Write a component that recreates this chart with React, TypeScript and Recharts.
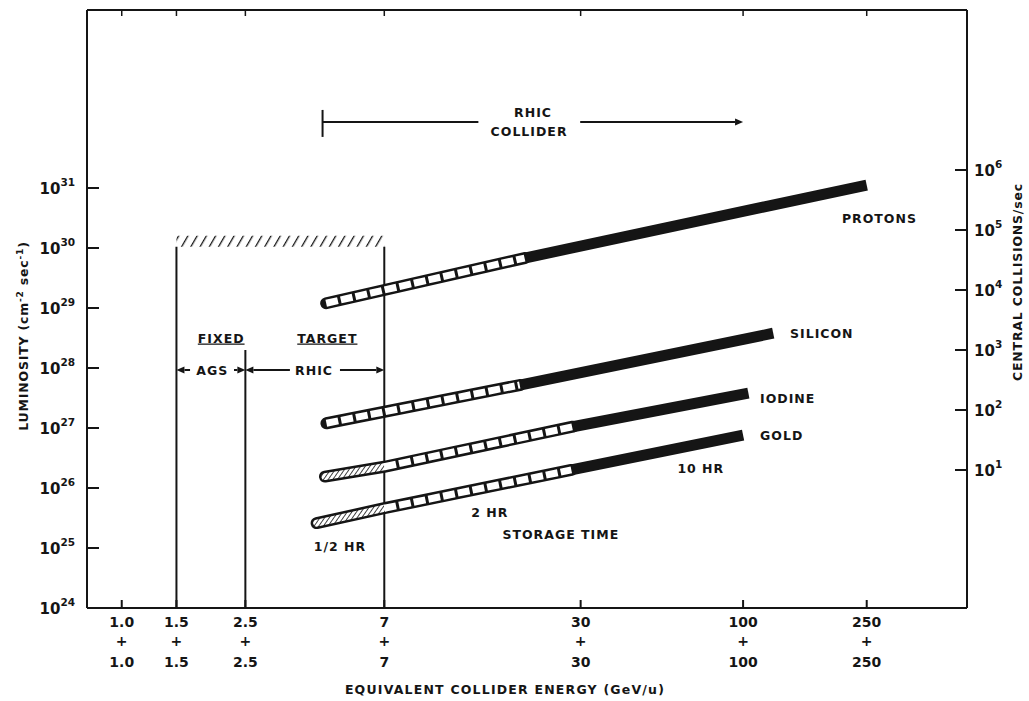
import React from 'react';
import { ComposedChart, Line, XAxis, YAxis, ReferenceArea, ReferenceLine, ReferenceDot } from 'recharts';

const INK = '#151515';
const FONT = "'DejaVu Sans', 'Liberation Sans', sans-serif";

// Axis ticks
const ENERGY_TICKS = [1.0, 1.5, 2.5, 7, 30, 100, 250];
const ENERGY_TICK_LABELS = ['1.0', '1.5', '2.5', '7', '30', '100', '250'];
const LUMINOSITY_TICKS = [1e24, 1e25, 1e26, 1e27, 1e28, 1e29, 1e30, 1e31];
const COLLISION_TICKS = [1e1, 1e2, 1e3, 1e4, 1e5, 1e6];

// Storage curves (energy GeV/u, luminosity cm^-2 s^-1)
const PROTON_ENERGY = [4.55, 19.8, 250];
const PROTON_LUMINOSITY = [1.2e29, 6.8e29, 1.12e31];
const SILICON_ENERGY = [4.56, 19.1, 125];
const SILICON_LUMINOSITY = [1.2e27, 5.2e27, 3.8e28];
const IODINE_ENERGY = [4.51, 7, 28.3, 104];
const IODINE_LUMINOSITY = [1.55e26, 2.26e26, 1.05e27, 3.8e27];
const GOLD_ENERGY = [4.24, 7, 28, 100];
const GOLD_LUMINOSITY = [2.6e25, 4.6e25, 2.0e26, 7.6e26];

// Fixed-target region
const FIXED_TARGET_ENERGY = [1.5, 2.5, 7];
const FIXED_TARGET_TOP = [1.05e30, 2e28, 1.05e30];
const LUMINOSITY_FLOOR = 1e24;
const FIXED_TARGET_LIMIT = [1.05e30, 1.6e30];

// Collider range arrow
const RHIC_COLLIDER_RANGE = [4.43, 100];

const ENERGY_DOMAIN = [0.773, 525.7];
const LUMINOSITY_DOMAIN = [1e24, 9.26e33];
const COLLISION_FACTOR = Math.pow(10, 25.3);
const COLLISION_DOMAIN = [LUMINOSITY_DOMAIN[0] / COLLISION_FACTOR, LUMINOSITY_DOMAIN[1] / COLLISION_FACTOR];

type Species = { name: string; E: number[]; L: number[]; fineEnd: number; solidStart: number };
const SPECIES: Species[] = [
  { name: 'p', E: PROTON_ENERGY, L: PROTON_LUMINOSITY, fineEnd: 0, solidStart: 1 },
  { name: 'si', E: SILICON_ENERGY, L: SILICON_LUMINOSITY, fineEnd: 0, solidStart: 1 },
  { name: 'i', E: IODINE_ENERGY, L: IODINE_LUMINOSITY, fineEnd: 1, solidStart: 2 },
  { name: 'au', E: GOLD_ENERGY, L: GOLD_LUMINOSITY, fineEnd: 1, solidStart: 2 },
];

const pts = (E: number[], L: number[], a: number, b: number) =>
  E.slice(a, b + 1).map((e, i) => ({ e, l: L[a + i] }));

type Note = { text: string; e: number; l: number; anchor: 'start' | 'middle'; underline?: boolean; size?: number };
const NOTES: Note[] = [
  { text: 'PROTONS', e: 208, l: 3.16e30, anchor: 'start' },
  { text: 'SILICON', e: 141.6, l: 3.83e28, anchor: 'start' },
  { text: 'IODINE', e: 113.4, l: 3.16e27, anchor: 'start' },
  { text: 'GOLD', e: 113.4, l: 7.64e26, anchor: 'start' },
  { text: '10 HR', e: 73.1, l: 2.15e26, anchor: 'middle' },
  { text: '2 HR', e: 15.3, l: 3.98e25, anchor: 'middle' },
  { text: 'STORAGE  TIME', e: 25.9, l: 1.65e25, anchor: 'middle' },
  { text: '1/2 HR', e: 5.04, l: 1.04e25, anchor: 'middle' },
  { text: 'FIXED', e: 2.09, l: 3.16e28, anchor: 'middle', underline: true },
  { text: 'TARGET', e: 4.59, l: 3.16e28, anchor: 'middle', underline: true },
  { text: 'AGS', e: 1.956, l: 9.26e27, anchor: 'middle' },
  { text: 'RHIC', e: 4.16, l: 9.26e27, anchor: 'middle' },
  { text: 'RHIC', e: 21.08, l: 1.78e32, anchor: 'middle' },
  { text: 'COLLIDER', e: 20.47, l: 8.58e31, anchor: 'middle' },
];

type Arrow = { from: [number, number]; to: [number, number]; head: boolean };
const ARROW_LEVEL_FIXED = 9.26e27;
const ARROW_LEVEL_COLLIDER = 1.26e32;
const ARROWS: Arrow[] = [
  { from: [1.659, ARROW_LEVEL_FIXED], to: [1.5, ARROW_LEVEL_FIXED], head: true },
  { from: [2.298, ARROW_LEVEL_FIXED], to: [2.5, ARROW_LEVEL_FIXED], head: true },
  { from: [3.478, ARROW_LEVEL_FIXED], to: [2.5, ARROW_LEVEL_FIXED], head: true },
  { from: [5.04, ARROW_LEVEL_FIXED], to: [7, ARROW_LEVEL_FIXED], head: true },
  { from: [RHIC_COLLIDER_RANGE[0], ARROW_LEVEL_COLLIDER], to: [14.06, ARROW_LEVEL_COLLIDER], head: false },
  { from: [29.9, ARROW_LEVEL_COLLIDER], to: [RHIC_COLLIDER_RANGE[1], ARROW_LEVEL_COLLIDER], head: true },
  { from: [RHIC_COLLIDER_RANGE[0], 7.1e31], to: [RHIC_COLLIDER_RANGE[0], 2.0e32], head: false },
];

const arrowShape = (head: boolean) => (p: any) => {
  const { x1, y1, x2, y2 } = p;
  const dx = x2 - x1;
  const dy = y2 - y1;
  const len = Math.sqrt(dx * dx + dy * dy) || 1;
  const ux = dx / len;
  const uy = dy / len;
  const hl = 8;
  const hw = 3.5;
  const bx = x2 - ux * hl;
  const by = y2 - uy * hl;
  return (
    <g>
      <line x1={x1} y1={y1} x2={head ? bx : x2} y2={head ? by : y2} stroke={INK} strokeWidth={2} />
      {head && (
        <polygon
          points={`${x2},${y2} ${bx - uy * hw},${by + ux * hw} ${bx + uy * hw},${by - ux * hw}`}
          fill={INK}
        />
      )}
    </g>
  );
};

const textStyle = { fontFamily: FONT, fontWeight: 700, fill: INK } as const;

const BottomTick = (p: any) => {
  const { x, y, payload } = p;
  const idx = ENERGY_TICKS.indexOf(payload.value);
  const label = ENERGY_TICK_LABELS[idx];
  return (
    <g>
      <line x1={x} y1={y} x2={x} y2={y - 8} stroke={INK} strokeWidth={2} />
      <text x={x} y={y + 19} textAnchor="middle" fontSize={14} {...textStyle}>{label}</text>
      <text x={x} y={y + 38} textAnchor="middle" fontSize={14} {...textStyle}>+</text>
      <text x={x} y={y + 59} textAnchor="middle" fontSize={14} {...textStyle}>{label}</text>
    </g>
  );
};

const TopTick = (p: any) => {
  const { x, y } = p;
  return <line x1={x} y1={y} x2={x} y2={y + 6} stroke={INK} strokeWidth={1.5} />;
};

const LeftTick = (p: any) => {
  const { x, y, payload } = p;
  const exp = Math.round(Math.log10(payload.value));
  return (
    <g>
      <line x1={x} y1={y} x2={x + 12} y2={y} stroke={INK} strokeWidth={2} />
      <text x={x - 12} y={y + 6} textAnchor="end" fontSize={15} {...textStyle}>
        10<tspan dy={-8} fontSize={10.5}>{exp}</tspan>
      </text>
    </g>
  );
};

const RightTick = (p: any) => {
  const { x, y, payload } = p;
  const exp = Math.round(Math.log10(payload.value));
  return (
    <g>
      <line x1={x} y1={y} x2={x - 12} y2={y} stroke={INK} strokeWidth={2} />
      <text x={x + 7} y={y + 6} textAnchor="start" fontSize={15} {...textStyle}>
        10<tspan dy={-8} fontSize={10.5}>{exp}</tspan>
      </text>
    </g>
  );
};

const noteShape = (n: Note) => (p: any) => (
  <text
    x={p.cx}
    y={p.cy}
    dy={4.5}
    textAnchor={n.anchor}
    fontSize={n.size ?? 12.5}
    letterSpacing={1}
    style={n.underline ? { textDecoration: 'underline' } : undefined}
    {...textStyle}
  >
    {n.text}
  </text>
);

const lineCommon = {
  type: 'linear' as const,
  dataKey: 'l',
  dot: false,
  activeDot: false,
  isAnimationActive: false,
  legendType: 'none' as const,
};

export default function App() {
  return (
    <div style={{ position: 'absolute', left: 0, top: 0, background: '#fff' }}>
      <ComposedChart width={1029} height={701} margin={{ top: 8, right: 2, bottom: 13, left: 27 }}>
        <defs>
          <pattern id="topHatch" width="8" height="8" patternUnits="userSpaceOnUse" patternTransform="rotate(30)">
            <line x1="0" y1="0" x2="0" y2="8" stroke={INK} strokeWidth="2.6" />
          </pattern>
          <pattern id="fineHatch" width="3.8" height="3.8" patternUnits="userSpaceOnUse" patternTransform="rotate(35)">
            <rect x="0" y="0" width="3.8" height="3.8" fill="#fff" />
            <line x1="0" y1="0" x2="0" y2="3.8" stroke={INK} strokeWidth="1.6" />
          </pattern>
        </defs>

        <XAxis
          dataKey="e"
          type="number"
          scale="log"
          domain={ENERGY_DOMAIN}
          allowDataOverflow
          ticks={ENERGY_TICKS}
          interval={0}
          tickSize={0}
          tickMargin={0}
          tickLine={false}
          tick={<BottomTick />}
          height={80}
          axisLine={{ stroke: INK, strokeWidth: 2 }}
          label={{
            content: () => (
              <text x={505} y={694} textAnchor="middle" fontSize={12.5} letterSpacing={1.2} {...textStyle}>
                EQUIVALENT COLLIDER ENERGY (GeV/u)
              </text>
            ),
          }}
        />
        <XAxis
          xAxisId="top"
          orientation="top"
          dataKey="e"
          type="number"
          scale="log"
          domain={ENERGY_DOMAIN}
          allowDataOverflow
          ticks={ENERGY_TICKS}
          interval={0}
          tickSize={0}
          tickMargin={0}
          tickLine={false}
          tick={<TopTick />}
          height={2}
          axisLine={{ stroke: INK, strokeWidth: 2 }}
        />
        <YAxis
          type="number"
          scale="log"
          domain={LUMINOSITY_DOMAIN}
          allowDataOverflow
          ticks={LUMINOSITY_TICKS}
          interval={0}
          tickSize={0}
          tickMargin={0}
          tickLine={false}
          tick={<LeftTick />}
          width={60}
          axisLine={{ stroke: INK, strokeWidth: 2 }}
          label={{
            content: () => (
              <text
                x={24}
                y={336}
                transform="rotate(-90 24 336)"
                textAnchor="middle"
                dy={4}
                fontSize={12.5}
                letterSpacing={0.8}
                {...textStyle}
              >
                LUMINOSITY (cm<tspan dy={-5} fontSize={9}>-2</tspan>
                <tspan dy={5}> sec</tspan>
                <tspan dy={-5} fontSize={9}>-1</tspan>
                <tspan dy={5}>)</tspan>
              </text>
            ),
          }}
        />
        <YAxis
          yAxisId="right"
          orientation="right"
          type="number"
          scale="log"
          domain={COLLISION_DOMAIN}
          allowDataOverflow
          ticks={COLLISION_TICKS}
          interval={0}
          tickSize={0}
          tickMargin={0}
          tickLine={false}
          tick={<RightTick />}
          width={60}
          axisLine={{ stroke: INK, strokeWidth: 2 }}
          label={{
            content: () => (
              <text
                x={1018}
                y={282}
                transform="rotate(-90 1018 282)"
                textAnchor="middle"
                dy={4}
                fontSize={12.5}
                letterSpacing={0.8}
                {...textStyle}
              >
                CENTRAL COLLISIONS/sec
              </text>
            ),
          }}
        />

        <ReferenceArea
          x1={FIXED_TARGET_ENERGY[0]}
          x2={FIXED_TARGET_ENERGY[2]}
          y1={FIXED_TARGET_LIMIT[0]}
          y2={FIXED_TARGET_LIMIT[1]}
          fill="url(#topHatch)"
          fillOpacity={1}
          stroke="none"
        />

        {FIXED_TARGET_ENERGY.map((e, i) => (
          <Line
            key={`ft-${i}`}
            {...lineCommon}
            data={[{ e, l: LUMINOSITY_FLOOR }, { e, l: FIXED_TARGET_TOP[i] }]}
            stroke={INK}
            strokeWidth={2}
          />
        ))}

        {SPECIES.map((s) => {
          const n = s.E.length - 1;
          return [
            <Line
              key={`${s.name}-outer`}
              {...lineCommon}
              data={pts(s.E, s.L, 0, s.solidStart)}
              stroke={INK}
              strokeWidth={12}
              strokeLinecap="round"
            />,
            <Line
              key={`${s.name}-solid`}
              {...lineCommon}
              data={pts(s.E, s.L, s.solidStart, n)}
              stroke={INK}
              strokeWidth={11}
              strokeLinecap="butt"
            />,
            s.fineEnd > 0 ? (
              <Line
                key={`${s.name}-fine`}
                {...lineCommon}
                data={pts(s.E, s.L, 0, s.fineEnd)}
                stroke="url(#fineHatch)"
                strokeWidth={7}
                strokeLinecap="round"
              />
            ) : null,
            <Line
              key={`${s.name}-dash`}
              {...lineCommon}
              data={pts(s.E, s.L, s.fineEnd, s.solidStart)}
              stroke="#fff"
              strokeWidth={7}
              strokeDasharray="12 3"
              strokeLinecap="butt"
            />,
          ];
        })}

        {ARROWS.map((a, i) => (
          <ReferenceLine
            key={`arrow-${i}`}
            segment={[
              { x: a.from[0], y: a.from[1] },
              { x: a.to[0], y: a.to[1] },
            ]}
            stroke={INK}
            shape={arrowShape(a.head)}
          />
        ))}

        {NOTES.map((n, i) => (
          <ReferenceDot key={`note-${i}`} x={n.e} y={n.l} r={1} shape={noteShape(n)} />
        ))}
      </ComposedChart>
    </div>
  );
}
